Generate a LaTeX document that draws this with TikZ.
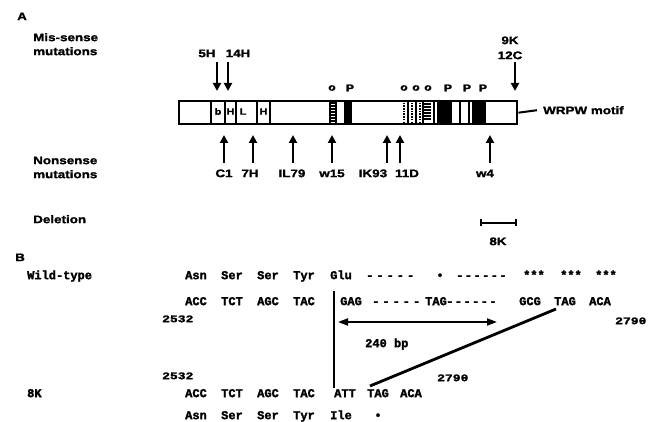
\documentclass[tikz,border=0pt]{standalone}
\usepackage{fontspec}
\usetikzlibrary{arrows.meta}
\newfontfamily\asans[FakeStretch=1.22,FakeBold=1.6]{Liberation Sans}
\newfontfamily\bmono[FakeBold=2]{Liberation Mono}
\newfontfamily\dmono[FakeBold=2,LetterSpace=25]{Liberation Mono}
\newfontfamily\emono[FakeBold=2,LetterSpace=12]{Liberation Mono}
\newfontfamily\nmono[FakeStretch=1.3,FakeBold=2]{Liberation Mono}
\newcommand\labfont{\asans\bfseries\fontsize{11pt}{12pt}\selectfont}
\newcommand\boxfont{\asans\bfseries\fontsize{9pt}{10pt}\selectfont}
\newcommand\markfont{\asans\bfseries\fontsize{10pt}{11pt}\selectfont}
\newcommand\seqfont{\bmono\bfseries\fontsize{12pt}{13pt}\selectfont}
\newcommand\dashfont{\dmono\bfseries\fontsize{12pt}{13pt}\selectfont}
\newcommand\dashfontb{\emono\bfseries\fontsize{12pt}{13pt}\selectfont}
\newcommand\numfont{\nmono\bfseries\fontsize{10pt}{11pt}\selectfont}

\tikzset{
  lbl/.style={font=\labfont,inner sep=0pt,anchor=mid},
  lblw/.style={lbl,anchor=mid west},
  seq/.style={font=\seqfont,inner sep=0pt,anchor=mid west},
  gap/.style={font=\dashfont,inner sep=0pt,anchor=mid west},
  gapb/.style={font=\dashfontb,inner sep=0pt,anchor=mid west},
  num/.style={font=\numfont,inner sep=0pt,anchor=mid west},
  mutarrow/.style={line width=2.2pt,-{Triangle[length=8pt,width=8pt]}},
  divline/.style={line width=1.4pt},
}

\begin{document}
\begin{tikzpicture}[x=1pt,y=-1pt]
\path[use as bounding box] (0,0) rectangle (664,422);
\fill[white] (0,0) rectangle (664,422);

% ---- panel A
\node[lblw] (A) at (17,18) {A};
\node[lblw] (mis1) at (33,39) {Mis-sense};
\node[lblw] (mis2) at (33,53) {mutations};
\node[lblw] (non1) at (33,162) {Nonsense};
\node[lblw] (non2) at (33,176) {mutations};
\node[lblw] (del) at (33,221) {Deletion};

% protein bar
\node[draw,line width=2.4pt,minimum width=338pt,minimum height=23pt,inner sep=0pt,anchor=north west] (bar) at (178,100) {};
\foreach \x in {211,225,236,257,270,330,336,460}
  \draw[divline] (\x,100) -- (\x,123);
\node[font=\boxfont,inner sep=0pt] (bb) at (218,111.5) {b};
\node[font=\boxfont,inner sep=0pt] (bh1) at (230.5,111.5) {H};
\node[font=\boxfont,inner sep=0pt] (bl) at (243,111.5) {L};
\node[font=\boxfont,inner sep=0pt] (bh2) at (263.5,111.5) {H};
\foreach \y in {103,106,...,121}
  \draw[line width=1.1pt] (330,\y) -- (336,\y);
\foreach \x in {404,412,420}
  \draw[line width=1.3pt,dash pattern=on 1.5pt off 1.2pt] (\x,100) -- (\x,123);
\foreach \x in {408,416,423,434}
  \draw[divline] (\x,100) -- (\x,123);
\foreach \y in {104,107,...,120}
  \draw[line width=1.1pt] (424,\y) -- (431,\y);
\fill (344,100) rectangle (352,123);
\fill (437,100) rectangle (452,123);
\fill (472,100) rectangle (486,123);
\draw[line width=2pt] (469,100) -- (469,123);

\foreach \x/\t [count=\i] in {332/o,350/P,404/o,416/o,428/o,448/P,467/P,483/P}
  \node[font=\markfont,inner sep=0pt] (dom\i) at (\x,88) {\t};

\node[lblw] (wrpw) at (543,112) {WRPW motif};
\draw[line width=2pt] (bar.east) -- (wrpw.west -| 537,0);

% mis-sense arrows
\node[lbl] (m5H) at (207,55) {5H};
\node[lbl] (m14H) at (238,55) {14H};
\node[lbl] (m9K) at (510,42) {9K};
\node[lbl] (m12C) at (510,57) {12C};
\foreach \x/\n in {217/a,228/b,515/c} {
  \coordinate (ms\n) at (\x,62);
  \coordinate (me\n) at (\x,91);
  \draw[mutarrow] (ms\n) -- (me\n);
}

% nonsense arrows
\foreach \x/\lx/\t [count=\i] in {224/224/C1,253/250/7H,293/292/IL79,332/332/w15,387/373/IK93,400/407/11D,490/485/w4} {
  \coordinate (ns\i) at (\x,163);
  \coordinate (ne\i) at (\x,135);
  \draw[mutarrow] (ns\i) -- (ne\i);
  \node[lbl] (nl\i) at (\lx,175) {\t};
}

% deletion
\coordinate (dL) at (480,223);
\coordinate (dR) at (517,223);
\draw[line width=1.8pt,{Bar[width=7pt]}-{Bar[width=7pt]}] (dL) -- (dR);
\node[lbl] (d8K) at (498,243) {8K};

% ---- panel B
\node[lblw] (B) at (15,259) {B};
\node[seq] (wt) at (27,277) {Wild-type};
\node[seq] (mk) at (27,395) {8K};

\foreach \x/\t [count=\i] in {185/Asn,221/Ser,257/Ser,293/Tyr,330/Glu,523/***,560/***,595/***}
  \node[seq] (wa\i) at (\x,277) {\t};
\node[gap] (wd1) at (366,277) {-----};
\node[gapb] (wd2) at (456,277) {------};
\node[seq,anchor=mid] (wstop) at (440,277) {\textbullet};

\foreach \x/\t [count=\i] in {185/ACC,221/TCT,257/AGC,293/TAC,340/GAG,425/TAG,519/GCG,554/TAG,589/ACA}
  \node[seq] (wn\i) at (\x,303) {\t};
\node[gap] (wg1) at (372,303) {-----};
\node[gapb] (wg2) at (446,303) {------};

\node[num] (n1) at (162,320) {2532};
\node[num] (n2) at (615,322) {2790};
\node[num] (n3) at (162,377) {2532};
\node[num] (n4) at (437,379) {2790};

\coordinate (bpL) at (338,322);
\coordinate (bpR) at (497,322);
\draw[line width=2pt,{Triangle[length=10pt,width=7pt]}-{Triangle[length=10pt,width=7pt]}] (bpL) -- (bpR);
\node[seq] (bp) at (365,345) {240 bp};

\coordinate (cutT) at (334,291);
\coordinate (cutB) at (334,388);
\draw[line width=1.5pt] (cutT) -- (cutB);
\coordinate (diagT) at (556,309);
\coordinate (diagB) at (370,386);
\draw[line width=2.8pt] (diagT) -- (diagB);

\foreach \x/\t [count=\i] in {185/ACC,221/TCT,257/AGC,293/TAC,334/ATT,367/TAG,400/ACA}
  \node[seq] (kn\i) at (\x,395) {\t};
\foreach \x/\t [count=\i] in {185/Asn,221/Ser,257/Ser,293/Tyr,330/Ile}
  \node[seq] (ka\i) at (\x,417) {\t};
\node[seq,anchor=mid] (kstop) at (378,417) {\textbullet};
\end{tikzpicture}
\end{document}
